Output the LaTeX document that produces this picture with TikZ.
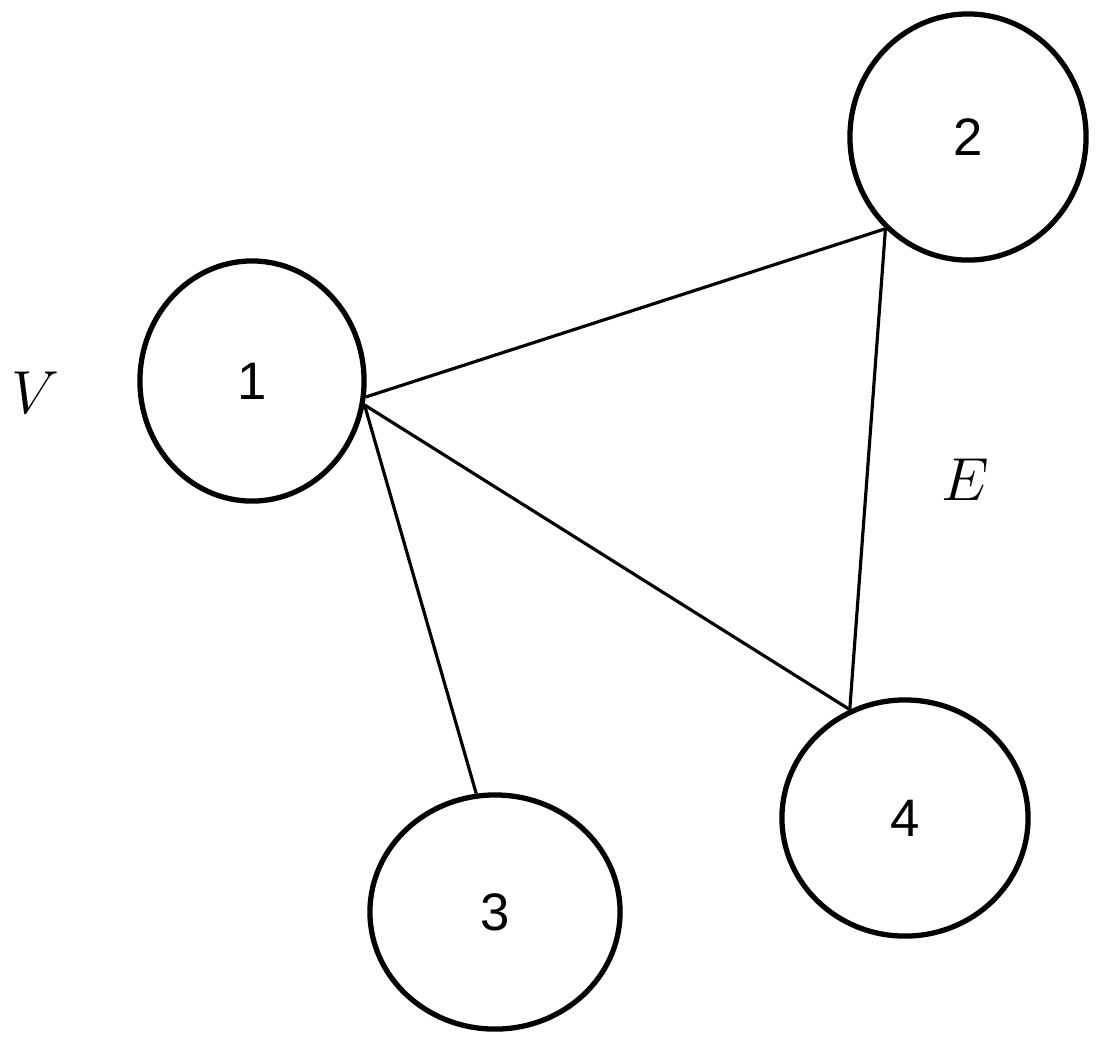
\documentclass[tikz,border=0pt]{standalone}
\usepackage{fontspec}
\newfontfamily\lab{Liberation Sans}
\usetikzlibrary{shapes.geometric}
\begin{document}
\begin{tikzpicture}[x=0.01cm,y=-0.01cm,
  v/.style={ellipse,draw,line width=1.5pt,inner sep=0pt,font=\lab\fontsize{15}{18}\selectfont},
  e/.style={line width=0.9pt}]
\useasboundingbox (0,0) rectangle (1110,1053);
\node[v,minimum width=224\pgflinewidth,minimum width=2.24cm,minimum height=2.40cm] (n1) at (252,381) {1};
\node[v,minimum width=2.36cm,minimum height=2.46cm] (n2) at (968,137) {2};
\node[v,minimum width=2.50cm,minimum height=2.34cm] (n3) at (495,912) {3};
\node[v,minimum width=2.46cm,minimum height=2.36cm] (n4) at (905,818) {4};
\node[font=\fontsize{18}{20}\selectfont] (V) at (35,393) {$V$};
\node[font=\fontsize{18}{20}\selectfont] (E) at (965,480) {$E$};
\draw[e] (n1.-8) -- (n2.228);
\draw[e] (n1.-12) -- (n4.117);
\draw[e] (n1.-12) -- (n3.99);
\draw[e] (n2.228) -- (n4.117);
\end{tikzpicture}
\end{document}
